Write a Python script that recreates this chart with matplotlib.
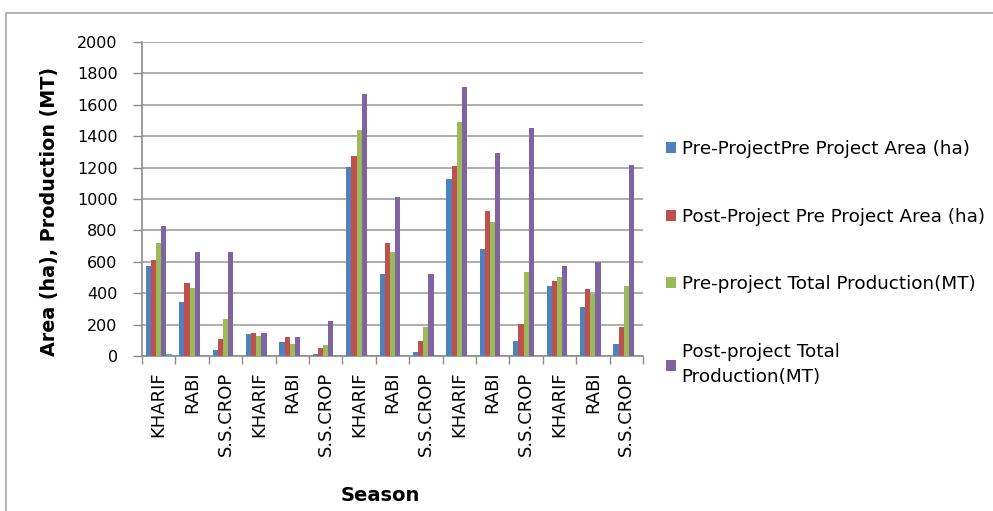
import numpy as np
import matplotlib
matplotlib.use("Agg")
import matplotlib.pyplot as plt
from matplotlib.patches import Rectangle

# ----------------- DATA -----------------
seasons = ["KHARIF", "RABI", "S.S.CROP"] * 5

pre_area = [573, 341, 40, 138, 89, 11, 1204, 525, 28, 1129, 679, 97, 446, 311, 78]
post_area = [614, 468, 108, 146, 118, 49, 1276, 719, 97, 1208, 923, 203, 476, 427, 184]
pre_prod = [719, 436, 233, 129, 78, 68, 1441, 660, 184, 1490, 853, 535, 506, 396, 446]
post_prod = [825, 660, 660, 146, 118, 224, 1667, 1013, 525, 1713, 1295, 1450, 573, 599, 1216]
extra = [11, 0, 0, 0, 0, 0, 0, 0, 0, 0, 0, 0, 0, 0, 0]

series_names = [
    "Pre-ProjectPre Project Area (ha)",
    "Post-Project Pre Project Area (ha)",
    "Pre-project Total Production(MT)",
    "Post-project Total\nProduction(MT)",
    "_nolegend_",
]
colors = ["#4F81BD", "#C0504D", "#9BBB59", "#8064A2", "#4BACC6"]

# ----------------- FIGURE -----------------
plt.rcParams["font.family"] = ["DejaVu Sans"]
fig = plt.figure(figsize=(9.93, 5.11), dpi=100)
ax = fig.add_axes([0.143, 0.3033, 0.5045, 0.6145])

# outer chart border (cut at right and bottom like the reference)
fig.patches.append(Rectangle((6 / 993, -0.1), 1.2, (511 - 13) / 511 + 0.1,
                             transform=fig.transFigure, fill=False,
                             edgecolor="#A6A6A6", linewidth=1.2))

x = np.arange(len(seasons))
w = 1 / 6.5
all_series = [pre_area, post_area, pre_prod, post_prod, extra]
for k, (vals, name, c) in enumerate(zip(all_series, series_names, colors)):
    ax.bar(x + (k - 2) * w, vals, width=w, color=c, label=name, zorder=3)

ax.set_xlim(-0.5, len(seasons) - 0.5)
ax.set_ylim(0, 2000)
ax.set_yticks(np.arange(0, 2001, 200))
ax.yaxis.grid(True, color="#A0A0A0", linewidth=1.2, zorder=0)

ax.set_xticks(x)
ax.set_xticklabels(seasons, rotation=90, va="top", ha="center", fontsize=13)
ax.set_xticks(np.arange(-0.5, len(seasons)), minor=True)
ax.tick_params(axis="x", which="major", length=0, pad=11)
ax.tick_params(axis="x", which="minor", length=6, color="#8C8C8C", width=1)
ax.tick_params(axis="y", length=6.5, color="#8C8C8C", width=1, pad=11,
               labelsize=11.5)

for side in ["top", "right"]:
    ax.spines[side].set_visible(False)
for side in ["left", "bottom"]:
    ax.spines[side].set_color("#8C8C8C")
    ax.spines[side].set_linewidth(1.2)

ax.set_ylabel("Area (ha), Production (MT)", fontsize=13.8, fontweight="bold")
ax.yaxis.set_label_coords(-0.166, 0.459)
fig.text(380 / 993, 0.031, "Season", fontsize=14, fontweight="bold",
         ha="center", va="center")

leg = ax.legend(loc="upper left", bbox_to_anchor=(1.046, 0.687), frameon=False,
                fontsize=13.2, labelspacing=2.7, handlelength=0.55,
                handleheight=0.55, handletextpad=0.3, borderaxespad=0,
                borderpad=0)
for t in leg.get_texts():
    t.set_linespacing(1.55)

fig.savefig("out.png", dpi=100)
